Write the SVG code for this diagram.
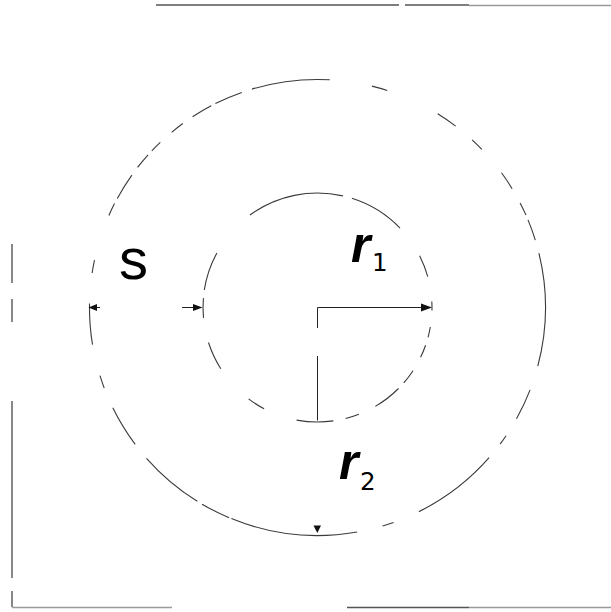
<svg xmlns="http://www.w3.org/2000/svg" width="611" height="612" viewBox="0 0 611 612">
<style>
.arc{fill:none;stroke:#3a3a3a;stroke-width:1.1}
.frame{fill:none;stroke:#555;stroke-width:1.4}
.frame2{fill:none;stroke:#9a9a9a;stroke-width:1.6}
.ln{fill:none;stroke:#222;stroke-width:1}
.ah{fill:#111}
.lbl{font-family:"Liberation Sans",Arial,sans-serif;fill:#000}
.sub{font-family:"DejaVu Sans","Liberation Sans",sans-serif;fill:#000}
</style>
<rect width="611" height="612" fill="#fff"/>
<g id="frame">
<line class="frame" x1="156" y1="5" x2="399" y2="5"/>
<line class="frame" x1="405" y1="5" x2="469" y2="5"/>
<line class="frame2" x1="469" y1="5.5" x2="611" y2="5.5"/>
<line class="frame" x1="12" y1="244" x2="12" y2="283"/>
<line class="frame" x1="12" y1="299" x2="12" y2="322"/>
<line class="frame" x1="12" y1="401" x2="12" y2="578"/>
<line class="frame" x1="12" y1="591" x2="12" y2="607"/>
<line class="frame2" x1="12" y1="607.5" x2="172" y2="607.5"/>
<line class="frame" x1="347" y1="607.5" x2="469" y2="607.5"/>
<line class="frame2" x1="469" y1="607.5" x2="611" y2="607.5"/>
</g>
<g id="outer-circle">
<path class="arc" d="M252.0 89.1A228 228 0 0 1 329.8 79.8"/>
<path class="arc" d="M371.9 86.1A228 228 0 0 1 387.2 90.4"/>
<path class="arc" d="M437.7 113.7A228 228 0 0 1 455.7 126.1"/>
<path class="arc" d="M472.1 139.9A228 228 0 0 1 481.8 149.4"/>
<path class="arc" d="M501.5 172.8A228 228 0 0 1 512.1 188.7"/>
<path class="arc" d="M520.1 202.9A228 228 0 0 1 526.0 215.1"/>
<path class="arc" d="M528.0 219.9A228 228 0 0 1 535.3 240.1"/>
<path class="arc" d="M538.9 253.1A228 228 0 0 1 537.8 366.1"/>
<path class="arc" d="M530.1 389.9A228 228 0 0 1 516.5 418.7"/>
<path class="arc" d="M506.1 435.7A228 228 0 0 1 500.1 444.1"/>
<path class="arc" d="M489.1 457.7A228 228 0 0 1 418.9 511.7"/>
<path class="arc" d="M393.6 522.4A228 228 0 0 1 382.6 526.0"/>
<path class="arc" d="M357.1 532.0A228 228 0 0 1 231.4 518.6"/>
<path class="arc" d="M229.1 517.7A228 228 0 0 1 202.1 504.2"/>
<path class="arc" d="M197.3 501.3A228 228 0 0 1 146.5 458.3"/>
<path class="arc" d="M135.2 444.4A228 228 0 0 1 112.8 407.8"/>
<path class="arc" d="M104.2 388.1A228 228 0 0 1 100.0 375.7"/>
<path class="arc" d="M92.5 344.7A228 228 0 0 1 89.5 303.5"/>
<path class="arc" d="M92.1 273.0A228 228 0 0 1 94.5 260.1"/>
<path class="arc" d="M108.9 215.5A228 228 0 0 1 114.5 203.6"/>
<path class="arc" d="M117.3 198.4A228 228 0 0 1 131.9 175.1"/>
<path class="arc" d="M137.6 167.4A228 228 0 0 1 148.1 154.9"/>
<path class="arc" d="M151.8 150.8A228 228 0 0 1 160.3 142.4"/>
<path class="arc" d="M171.6 132.3A228 228 0 0 1 182.8 123.5"/>
<path class="arc" d="M192.6 116.7A228 228 0 0 1 211.2 105.8"/>
<path class="arc" d="M215.4 103.6A228 228 0 0 1 241.8 92.5"/>
</g>
<g id="inner-circle">
<path class="arc" d="M204.3 290.0A114.5 114.5 0 0 1 216.9 252.9"/>
<path class="arc" d="M203.5 317.9A114.5 114.5 0 0 1 203.4 298.1"/>
<path class="arc" d="M220.8 368.8A114.5 114.5 0 0 1 208.5 342.5"/>
<path class="arc" d="M264.1 408.8A114.5 114.5 0 0 1 248.6 398.9"/>
<path class="arc" d="M333.4 420.9A114.5 114.5 0 0 1 296.6 420.1"/>
<path class="arc" d="M358.9 414.2A114.5 114.5 0 0 1 345.6 418.5"/>
<path class="arc" d="M398.5 388.5A114.5 114.5 0 0 1 375.3 406.4"/>
<path class="arc" d="M413.0 370.7A114.5 114.5 0 0 1 403.8 382.8"/>
<path class="arc" d="M425.6 345.2A114.5 114.5 0 0 1 420.6 357.3"/>
<path class="arc" d="M430.3 327.0A114.5 114.5 0 0 1 428.1 337.3"/>
<path class="arc" d="M431.8 301.5A114.5 114.5 0 0 1 432.0 310.5"/>
<path class="arc" d="M419.6 255.7A114.5 114.5 0 0 1 427.8 276.7"/>
<path class="arc" d="M351.9 198.3A114.5 114.5 0 0 1 400.0 228.1"/>
<path class="arc" d="M250.0 215.0A114.5 114.5 0 0 1 342.9 195.9"/>
</g>
<g id="connectors">
<line class="ln" x1="317.5" y1="307.5" x2="424" y2="307.5"/>
<polygon class="ah" points="432,307.5 421,303.5 421,311.5"/>
<line class="ln" x1="317.5" y1="307.5" x2="317.5" y2="328"/>
<line class="ln" x1="317.5" y1="356" x2="317.5" y2="420.5"/>
<line class="ln" x1="94" y1="307.5" x2="100" y2="307.5"/>
<polygon class="ah" points="88.5,307.5 97,304 97,311"/>
<line class="ln" x1="182" y1="307.5" x2="195" y2="307.5"/>
<polygon class="ah" points="202.5,307.5 193,304 193,311"/>
<polygon class="ah" points="317.3,533 313.5,525.5 321,525.5"/>
</g>
<g id="label-s"><text class="lbl" x="119" y="278.5" font-size="58">s</text></g>
<g id="label-r1"><text class="lbl" x="351" y="262" font-size="50" font-weight="bold" font-style="italic">r</text><text class="sub" x="372" y="271" font-size="24.5">1</text></g>
<g id="label-r2"><text class="lbl" x="339" y="479" font-size="50" font-weight="bold" font-style="italic">r</text><text class="sub" x="360" y="490" font-size="24.5">2</text></g>
</svg>
